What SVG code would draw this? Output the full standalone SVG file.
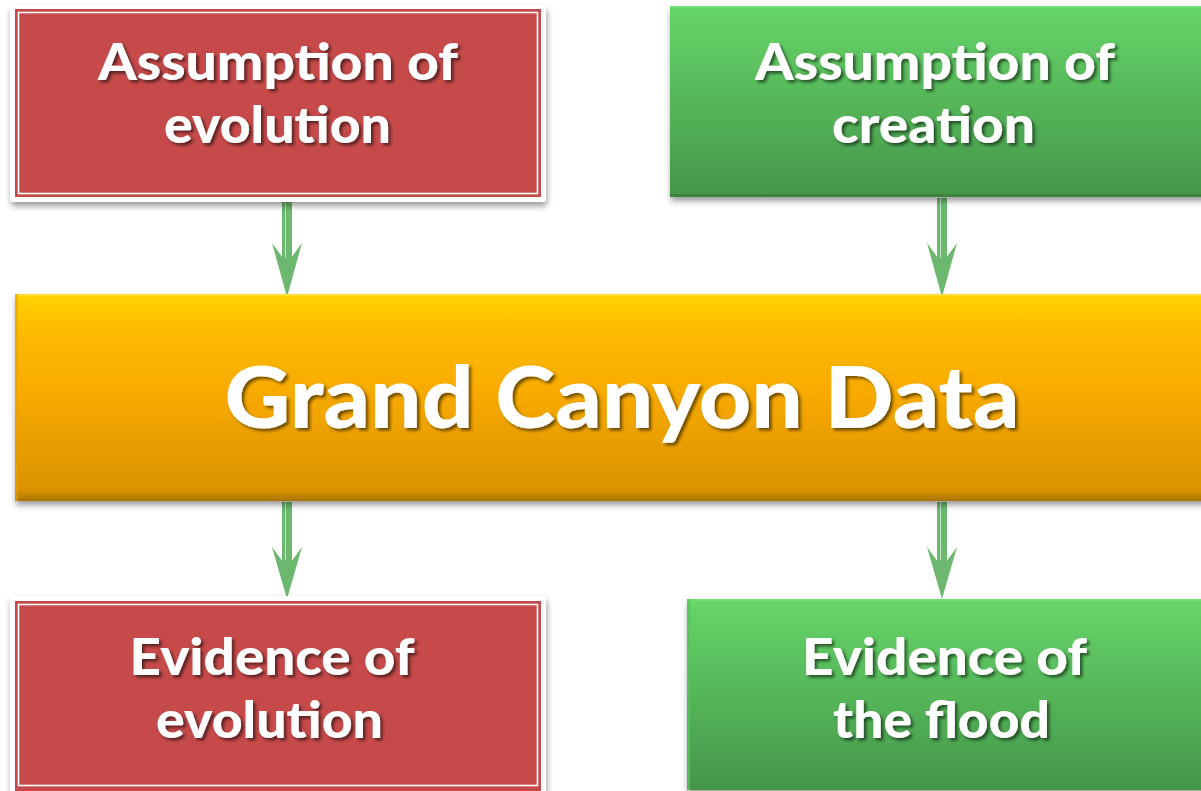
<svg xmlns="http://www.w3.org/2000/svg" width="1201" height="791" viewBox="0 0 1201 791">
<defs>
<style>
.lbl{font-family:"Lato","Open Sans","DejaVu Sans",sans-serif;font-weight:900;fill:#ffffff;text-anchor:middle;}
.sm{font-size:52px;}
.big{font-size:86px;}
.redfill{fill:#C74A4A;}
.frame{fill:#ffffff;}
.inner{fill:none;stroke:#ffffff;stroke-width:1.6;}
.arrow{fill:#6BB86E;}
.shaftline{stroke:#BFE3C0;stroke-width:1;}
</style>
<linearGradient id="gGreen" x1="0" y1="0" x2="0" y2="1">
<stop offset="0" stop-color="#66D66A"/>
<stop offset="0.5" stop-color="#55B659"/>
<stop offset="1" stop-color="#45954A"/>
</linearGradient>
<linearGradient id="gYellow" x1="0" y1="0" x2="0" y2="1">
<stop offset="0" stop-color="#FFD400"/>
<stop offset="0.15" stop-color="#FEBD00"/>
<stop offset="0.5" stop-color="#F7A900"/>
<stop offset="0.95" stop-color="#DA9300"/>
<stop offset="1" stop-color="#A77200"/>
</linearGradient>
<filter id="txtShadow" x="-10%" y="-20%" width="120%" height="150%">
<feDropShadow dx="2.5" dy="2.5" stdDeviation="1.5" flood-color="#000000" flood-opacity="0.55"/>
</filter>
<filter id="boxShadow" x="-5%" y="-10%" width="110%" height="125%">
<feDropShadow dx="1" dy="4" stdDeviation="3" flood-color="#000000" flood-opacity="0.4"/>
</filter>
</defs>
<rect width="1201" height="791" fill="#ffffff"/>

<g id="connectors">
<g id="arrow-evo-top">
<rect class="arrow" x="282" y="198" width="10" height="62"/>
<line class="shaftline" x1="285.5" y1="198" x2="285.5" y2="258"/>
<polygon class="arrow" points="272,243 283,258 291,258 302,243 287,297"/>
</g>
<g id="arrow-cre-top">
<rect class="arrow" x="937" y="198" width="10" height="62"/>
<line class="shaftline" x1="940.5" y1="198" x2="940.5" y2="258"/>
<polygon class="arrow" points="927,243 938,258 946,258 957,243 942,297"/>
</g>
<g id="arrow-evo-bottom">
<rect class="arrow" x="282" y="502" width="10" height="60"/>
<line class="shaftline" x1="285.5" y1="502" x2="285.5" y2="560"/>
<polygon class="arrow" points="272,547 283,562 291,562 302,547 287,599"/>
</g>
<g id="arrow-cre-bottom">
<rect class="arrow" x="937" y="502" width="10" height="60"/>
<line class="shaftline" x1="940.5" y1="502" x2="940.5" y2="560"/>
<polygon class="arrow" points="927,547 938,562 946,562 957,547 942,599"/>
</g>
</g>

<g id="assumption-evolution">
<rect class="frame" x="10" y="5" width="536" height="197" rx="4" filter="url(#boxShadow)"/>
<rect class="redfill" x="15" y="9" width="526" height="188"/>
<rect class="inner" x="18.5" y="12.5" width="519" height="181"/>
<g filter="url(#txtShadow)">
<text class="lbl sm" x="278" y="80" textLength="360" lengthAdjust="spacingAndGlyphs">Assumption of</text>
<text class="lbl sm" x="277.5" y="143" textLength="227" lengthAdjust="spacingAndGlyphs">evolution</text>
</g>
</g>

<g id="assumption-creation">
<rect x="670" y="6" width="540" height="191" fill="url(#gGreen)" filter="url(#boxShadow)"/>
<rect x="670" y="6" width="540" height="2" fill="#7BE07E" opacity="0.7"/>
<rect x="670" y="194" width="540" height="3" fill="#37803B" opacity="0.8"/>
<g filter="url(#txtShadow)">
<text class="lbl sm" x="935" y="80" textLength="360" lengthAdjust="spacingAndGlyphs">Assumption of</text>
<text class="lbl sm" x="933.5" y="143" textLength="203" lengthAdjust="spacingAndGlyphs">creation</text>
</g>
</g>

<g id="grand-canyon-data">
<rect x="15" y="294" width="1220" height="207" fill="url(#gYellow)" filter="url(#boxShadow)"/>
<rect x="15" y="294" width="1220" height="2" fill="#FFE040" opacity="0.8"/>
<rect x="15" y="294" width="3" height="207" fill="#E8A000" opacity="0.6"/>
<g filter="url(#txtShadow)">
<text class="lbl big" x="622" y="428" textLength="795" lengthAdjust="spacingAndGlyphs">Grand Canyon Data</text>
</g>
</g>

<g id="evidence-evolution">
<rect class="frame" x="10" y="596" width="536" height="205" rx="4" filter="url(#boxShadow)"/>
<rect class="redfill" x="15" y="601" width="526" height="200"/>
<rect class="inner" x="18.5" y="604.5" width="519" height="181"/>
<g filter="url(#txtShadow)">
<text class="lbl sm" x="272" y="675" textLength="285" lengthAdjust="spacingAndGlyphs">Evidence of</text>
<text class="lbl sm" x="269.5" y="738" textLength="227" lengthAdjust="spacingAndGlyphs">evolution</text>
</g>
</g>

<g id="evidence-flood">
<rect x="687" y="599" width="530" height="191" fill="url(#gGreen)" filter="url(#boxShadow)"/>
<rect x="687" y="599" width="530" height="2" fill="#7BE07E" opacity="0.7"/>
<rect x="687" y="599" width="3" height="191" fill="#5AC25E" opacity="0.8"/>
<g filter="url(#txtShadow)">
<text class="lbl sm" x="944.5" y="675" textLength="285" lengthAdjust="spacingAndGlyphs">Evidence of</text>
<text class="lbl sm" x="941.5" y="738" textLength="217" lengthAdjust="spacingAndGlyphs">the flood</text>
</g>
</g>
</svg>
